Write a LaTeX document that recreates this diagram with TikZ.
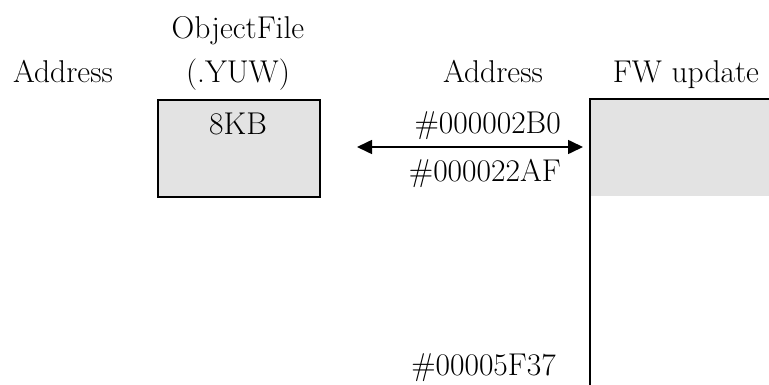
\documentclass[tikz,border=0pt]{standalone}
\usepackage{fontspec}
\usetikzlibrary{arrows.meta}
\begin{document}
\begin{tikzpicture}[x=1pt,y=-1pt,
  lbl/.style={font=\fontsize{31.5}{36}\selectfont, inner sep=0pt},
  gbox/.style={fill=gboxc, draw=black, line width=2pt},
  edge/.style={line width=2pt},
  arr/.style={line width=1.6pt, {Triangle[length=15pt,width=14pt]}-{Triangle[length=15pt,width=14pt]}}]
\definecolor{gboxc}{HTML}{E3E3E3}
\useasboundingbox (0,0) rectangle (769,385);
\node[lbl, anchor=base] (objf) at (238,39) {ObjectFile};
\node[lbl, anchor=base] (addrL) at (63,83) {Address};
\node[lbl, anchor=base] (yuw) at (238,83) {(.YUW)};
\node[lbl, anchor=base] (addrR) at (493,83) {Address};
\node[lbl, anchor=base] (fwu) at (686,83) {FW update};
\node[gbox, minimum width=162pt, minimum height=97pt, anchor=north west] (obox) at (157,99) {};
\node[lbl, anchor=base] (kb) at (238,135) {8KB};
\fill[gboxc] (590,99) rectangle (769,196);
\coordinate (fwtl) at (590,99);
\coordinate (fwtr) at (769,99);
\coordinate (fwbl) at (590,385);
\draw[edge] (fwtr) -- (fwtl) -- (fwbl);
\coordinate (aL) at (357,147);
\coordinate (aR) at (583,147);
\draw[arr] (aL) -- (aR);
\node[lbl, anchor=base east] (a1) at (561,134) {\#000002B0};
\node[lbl, anchor=base east] (a2) at (561,182) {\#000022AF};
\node[lbl, anchor=base east] (a3) at (556,375) {\#00005F37};
\end{tikzpicture}
\end{document}
